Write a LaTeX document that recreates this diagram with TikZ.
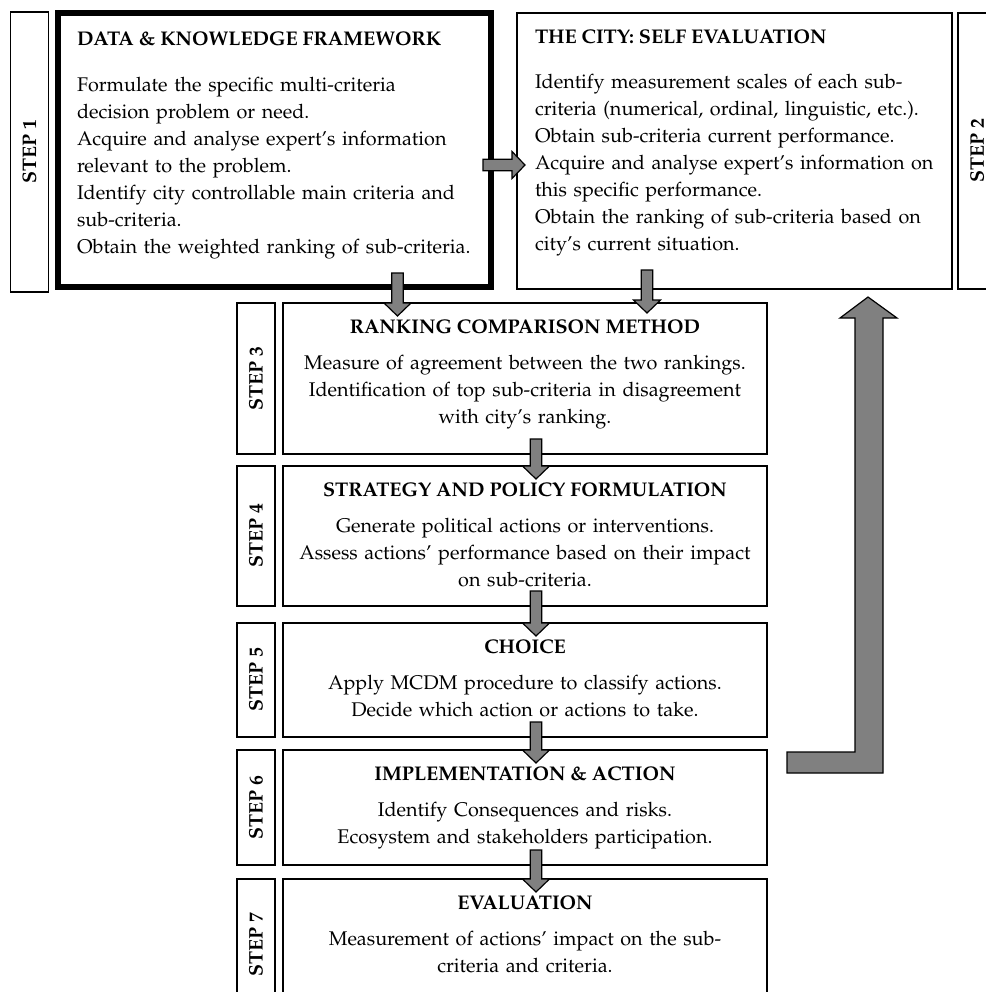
\documentclass[tikz,border=0pt]{standalone}
\usepackage[T1]{fontenc}
\usepackage{mathpazo}
\usetikzlibrary{calc,positioning}

\definecolor{arrowgray}{RGB}{128,128,128}

% fat outlined arrow from #1 to #2
\newcommand{\fatarrow}[2]{%
  \filldraw[fat] let \p1=(#1), \p2=(#2), \p3=($(\p2)!6.5pt!(\p1)$) in
    ($(\p1)!2.9pt!90:(\p2)$) -- ($(\p3)!2.9pt!90:(\p2)$) -- ($(\p3)!6.75pt!90:(\p2)$) -- (\p2)
    -- ($(\p3)!6.75pt!-90:(\p2)$) -- ($(\p3)!2.9pt!-90:(\p2)$) -- ($(\p1)!2.9pt!-90:(\p2)$) -- cycle;}

\begin{document}
\begin{tikzpicture}[x=0.5pt,y=-0.5pt,every node/.style={outer sep=0pt}]
  \tikzstyle{frame}=[draw,line width=0.9pt,anchor=north west,minimum width=242pt]
  \tikzstyle{stepbox}=[draw,line width=0.9pt,minimum width=19pt,inner sep=0pt,font=\fontsize{9.8}{12}\selectfont\bfseries]
  \tikzstyle{boxtitle}=[inner sep=0pt,font=\fontsize{9.9}{12}\selectfont\bfseries]
  \tikzstyle{boxbody}=[inner sep=0pt,text width=236pt,align=center,font=\fontsize{9.9}{13.5}\selectfont]
  \tikzstyle{fat}=[fill=arrowgray,draw=black,line width=0.6pt]

  \useasboundingbox (0,0) rectangle (986,992);

  % top row
  \node (frame1) [frame,line width=3pt,minimum width=216.5pt,minimum height=137pt] at (58,13) {};
  \node (frame2) [frame,minimum width=217.5pt,minimum height=138pt] at (517,13) {};
  \node (step1) [stepbox,minimum height=140pt,left=4.75pt of frame1,yshift=-1pt] {\rotatebox{90}{STEP 1}};
  \node (step2) [stepbox,minimum height=138pt,right=3pt of frame2] {\rotatebox{90}{STEP 2}};

  \node (title1) [boxtitle,anchor=base west] at (77,45) {DATA \& KNOWLEDGE FRAMEWORK};
  \node (body1) [boxbody,text width=212pt,align=left,anchor=base west] at (77,91)
    {Formulate the specific multi-criteria\\
     decision problem or need.\\
     Acquire and analyse expert's information\\
     relevant to the problem.\\
     Identify city controllable main criteria and\\
     sub-criteria.\\
     Obtain the weighted ranking of sub-criteria.};
  \node (title2) [boxtitle,anchor=base west] at (535,43) {THE CITY: SELF EVALUATION};
  \node (body2) [boxbody,text width=206pt,align=left,anchor=base west] at (535,88)
    {Identify measurement scales of each sub-\\
     criteria (numerical, ordinal, linguistic, etc.).\\
     Obtain sub-criteria current performance.\\
     Acquire and analyse expert's information on\\
     this specific performance.\\
     Obtain the ranking of sub-criteria based on\\
     city's current situation.};

  % steps 3 to 7
  \node (frame3) [frame,minimum height=75.5pt] at (283,303) {};
  \node (frame4) [frame,minimum height=70pt] at (283,466) {};
  \node (frame5) [frame,minimum height=57pt] at (283,623) {};
  \node (frame6) [frame,minimum height=57.5pt] at (283,750) {};
  \node (frame7) [frame,minimum height=66pt] at (283,879) {};

  \node (step3) [stepbox,minimum height=75.5pt,left=4pt of frame3] {\rotatebox{90}{STEP 3}};
  \node (step4) [stepbox,minimum height=70pt,left=4pt of frame4] {\rotatebox{90}{STEP 4}};
  \node (step5) [stepbox,minimum height=57pt,left=4pt of frame5] {\rotatebox{90}{STEP 5}};
  \node (step6) [stepbox,minimum height=57.5pt,left=4pt of frame6] {\rotatebox{90}{STEP 6}};
  \node (step7) [stepbox,minimum height=66pt,left=4pt of frame7] {\rotatebox{90}{STEP 7}};

  \node (title3) [boxtitle,anchor=base] at ([yshift=-15.25pt]frame3.north) {RANKING COMPARISON METHOD};
  \node (body3) [boxbody,anchor=base] at ([yshift=-33pt]frame3.north)
    {Measure of agreement between the two rankings.\\
     Identification of top sub-criteria in disagreement\\
     with city's ranking.};
  \node (title4) [boxtitle,anchor=base] at ([yshift=-15.25pt]frame4.north) {STRATEGY AND POLICY FORMULATION};
  \node (body4) [boxbody,anchor=base] at ([yshift=-33pt]frame4.north)
    {Generate political actions or interventions.\\
     Assess actions' performance based on their impact\\
     on sub-criteria.};
  \node (title5) [boxtitle,anchor=base] at ([yshift=-15.25pt]frame5.north) {CHOICE};
  \node (body5) [boxbody,anchor=base] at ([yshift=-33pt]frame5.north)
    {Apply MCDM procedure to classify actions.\\
     Decide which action or actions to take.};
  \node (title6) [boxtitle,anchor=base] at ([yshift=-15.25pt]frame6.north) {IMPLEMENTATION \& ACTION};
  \node (body6) [boxbody,anchor=base] at ([yshift=-33pt]frame6.north)
    {Identify Consequences and risks.\\
     Ecosystem and stakeholders participation.};
  \node (title7) [boxtitle,anchor=base] at ([yshift=-15.25pt]frame7.north) {EVALUATION};
  \node (body7) [boxbody,anchor=base] at ([yshift=-33pt]frame7.north)
    {Measurement of actions' impact on the sub-\\
     criteria and criteria.};

  % arrows
  \fatarrow{[xshift=-4pt,yshift=-7.5pt]frame1.east}{[xshift=4pt,yshift=-7pt]frame2.west}
  \fatarrow{[xshift=61.5pt,yshift=7pt]frame1.south}{[xshift=-63.75pt,yshift=-6.5pt]frame3.north}
  \fatarrow{[xshift=-43.75pt,yshift=9.5pt]frame2.south}{[xshift=61pt,yshift=-5pt]frame3.north}
  \foreach \a/\b in {3/4,4/5,5/6,6/7}
    \fatarrow{[xshift=5.5pt,yshift=7.5pt]frame\a.south}{[xshift=5.5pt,yshift=-6.5pt]frame\b.north};

  % feedback arrow
  \filldraw[fat] (787,752) -- (855,752) -- (855,318) -- (840,318) -- (868,297) -- (897,318)
    -- (883,318) -- (883,773) -- (787,773) -- cycle;
\end{tikzpicture}
\end{document}
